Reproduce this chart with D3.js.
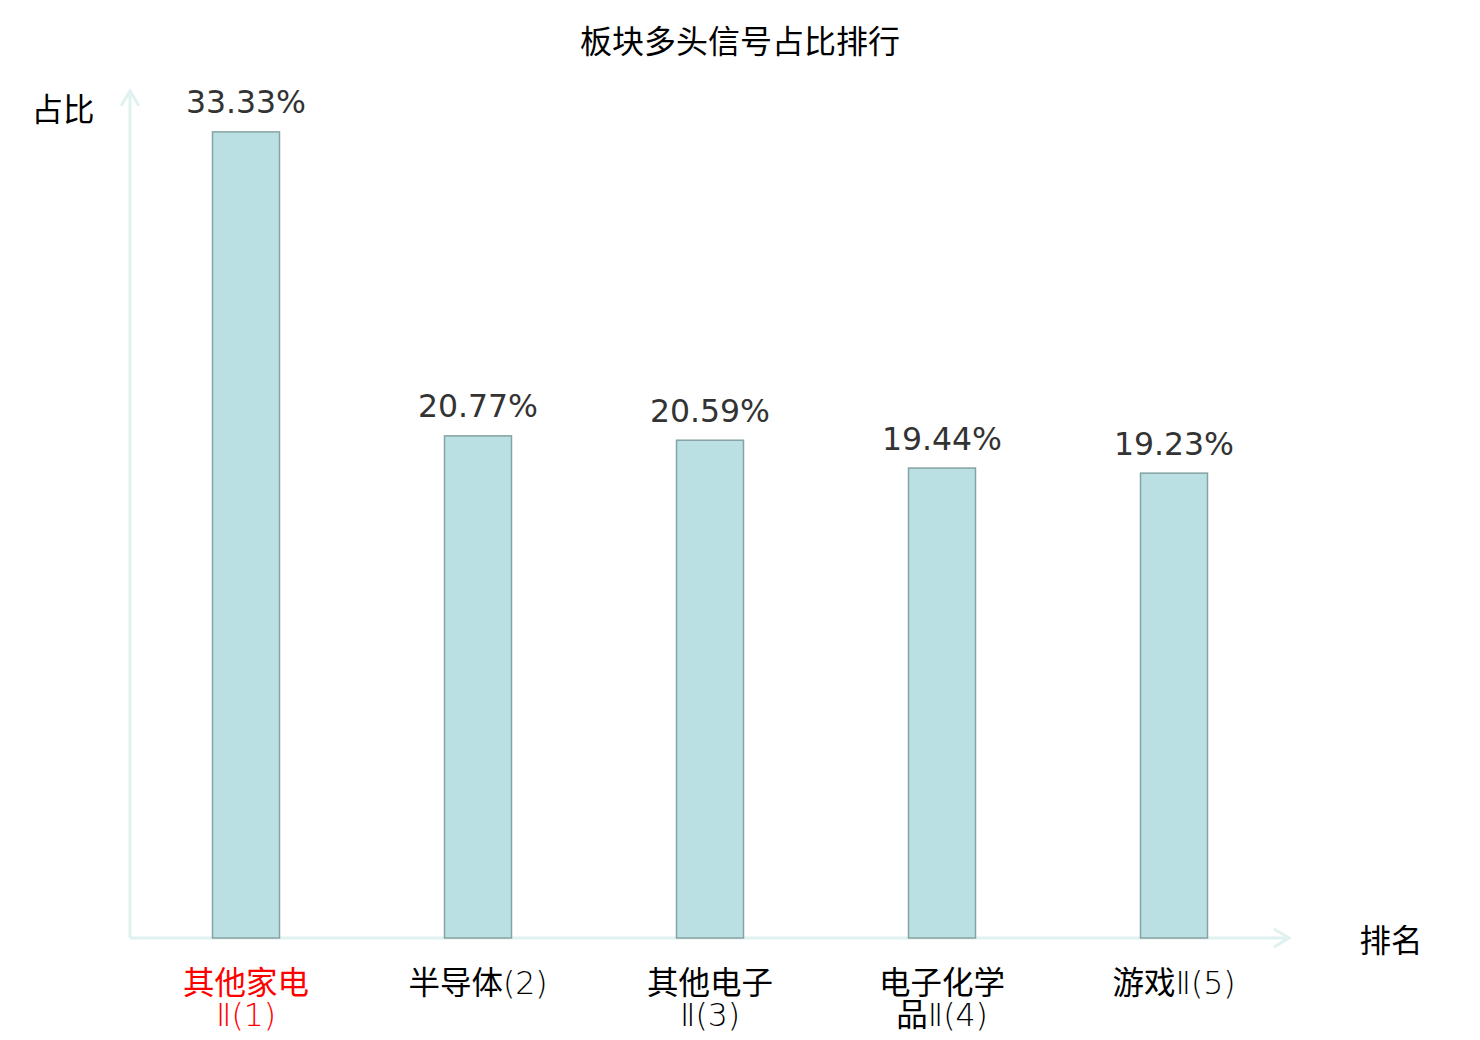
<!DOCTYPE html>
<html>
<head>
<meta charset="utf-8">
<script src="https://cdn.jsdelivr.net/npm/d3@7/dist/d3.min.js"></script>
<style>
  html, body { margin: 0; padding: 0; background: #fff; }
  svg { display: block; }
  text { font-family: "DejaVu Sans", "Noto Sans CJK SC", sans-serif; }
</style>
</head>
<body>
<svg id="chart" width="1480" height="1040"></svg>
<script>
const title = "板块多头信号占比排行";
const categories = ["其他家电Ⅱ(1)", "半导体(2)", "其他电子Ⅱ(3)", "电子化学品Ⅱ(4)", "游戏Ⅱ(5)"];
const values = [33.33, 20.77, 20.59, 19.44, 19.23];
const valueLabels = ["33.33%", "20.77%", "20.59%", "19.44%", "19.23%"];
const highlightIndex = 0;
const yAxisName = "占比";
const xAxisName = "排名";

(function () {
const svg = d3.select("#chart");
const mLeft = 130, mRight = 1290, mBottom = 938, mTop = 91;
const cjkFont = "'Noto Sans CJK SC', sans-serif";

const x = d3.scaleBand().domain(categories).range([mLeft, mRight])
  .paddingInner(0.707).paddingOuter(0.3535);
const y = d3.scaleLinear().domain([0, 35]).range([mBottom, mTop]);

const axisColor = "#dff2f0";

// axes
const axes = svg.append("g").attr("stroke", axisColor).attr("stroke-width", 3)
  .attr("fill", "none").attr("stroke-linecap", "butt");
axes.append("line").attr("x1", mLeft).attr("y1", mBottom).attr("x2", mRight - 2).attr("y2", mBottom);
axes.append("path").attr("d", `M${mRight - 16},${mBottom - 9} L${mRight - 1},${mBottom} L${mRight - 16},${mBottom + 9}`);
axes.append("line").attr("x1", mLeft).attr("y1", mBottom).attr("x2", mLeft).attr("y2", mTop + 1);
axes.append("path").attr("d", `M${mLeft - 9},${mTop + 15} L${mLeft},${mTop} L${mLeft + 9},${mTop + 15}`);

// bars
svg.append("g").selectAll("rect").data(values).join("rect")
  .attr("x", (d, i) => x(categories[i]) + 0.5)
  .attr("y", d => y(d) + 0.5)
  .attr("width", x.bandwidth() - 1)
  .attr("height", d => mBottom - y(d) - 0.5)
  .attr("fill", "#bbe0e3")
  .attr("stroke", "#86a2a3")
  .attr("stroke-width", 1.5);

// value labels
svg.append("g").selectAll("text").data(values).join("text")
  .attr("x", (d, i) => x(categories[i]) + x.bandwidth() / 2)
  .attr("y", d => y(d) - 18)
  .attr("text-anchor", "middle")
  .attr("font-size", 31.5)
  .attr("fill", "#333")
  .text((d, i) => valueLabels[i]);

// category labels with wrapping (wide chars count 2 units, max 9 units/line)
const isWide = ch => ch.codePointAt(0) > 0x2000;
function wrap(s) {
  const lines = []; let cur = "", u = 0;
  for (const ch of Array.from(s)) {
    const w = isWide(ch) ? 2 : 1;
    if (u + w > 9 && cur) { lines.push(cur); cur = ""; u = 0; }
    cur += ch; u += w;
  }
  lines.push(cur);
  return lines;
}
const catG = svg.append("g");
categories.forEach((c, i) => {
  const cx = x(c) + x.bandwidth() / 2;
  const t = catG.append("text")
    .attr("x", cx).attr("y", 994)
    .attr("text-anchor", "middle")
    .attr("font-size", 31.5)
    .attr("font-family", cjkFont)
    .attr("fill", i === highlightIndex ? "#f00" : "#000");
  wrap(c).forEach((l, k) => {
    const line = t.append("tspan").attr("x", cx).attr("dy", k === 0 ? 0 : 32);
    // split into runs: CJK ideographs regular, others light
    const runs = l.match(/[\u3400-\u9fff]+|[^\u3400-\u9fff]+/g) || [];
    runs.forEach(r => {
      const sp = line.append("tspan").text(r);
      if (!/[\u3400-\u9fff]/.test(r)) sp.attr("font-weight", 300);
    });
  });
});

// title & axis names
svg.append("text").attr("x", 740).attr("y", 53).attr("text-anchor", "middle")
  .attr("font-size", 32).attr("font-family", cjkFont)
  .attr("fill", "#000").text(title);
svg.append("text").attr("x", 63).attr("y", 121).attr("text-anchor", "middle")
  .attr("font-size", 31.5).attr("font-family", cjkFont)
  .attr("fill", "#000").text(yAxisName);
svg.append("text").attr("x", 1391).attr("y", 952).attr("text-anchor", "middle")
  .attr("font-size", 31.5).attr("font-family", cjkFont)
  .attr("fill", "#000").text(xAxisName);
})();
</script>
</body>
</html>
